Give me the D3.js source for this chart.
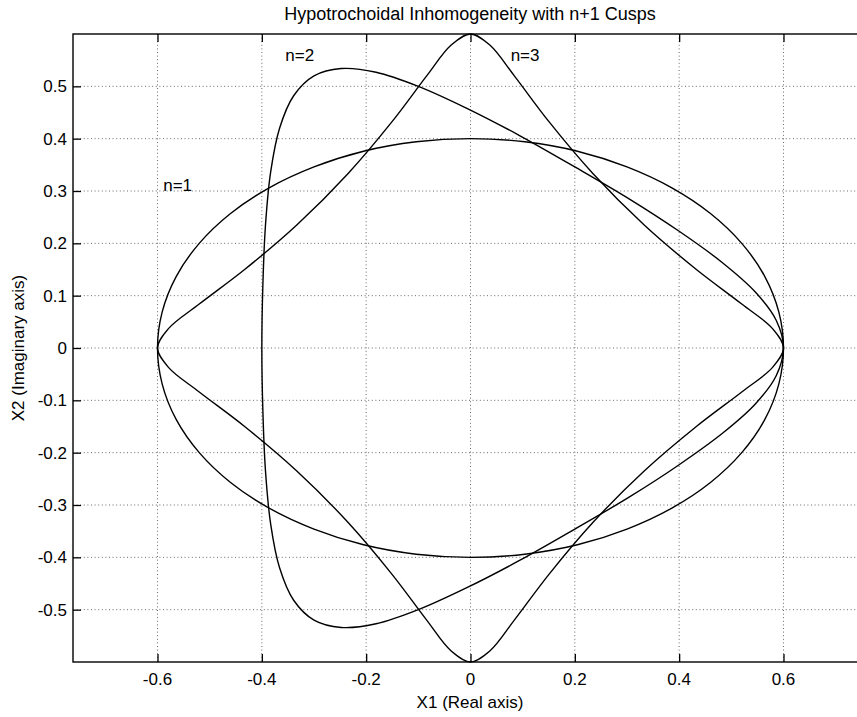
<!DOCTYPE html>
<html>
<head>
<meta charset="utf-8">
<script src="https://cdn.jsdelivr.net/npm/d3@7"></script>
<style>
  body { margin: 0; background: #fff; }
  text { font-family: "Liberation Sans", Arial, Helvetica, sans-serif; fill: #000; }
</style>
</head>
<body>
<div id="chart"></div>
<script>
var w = 857;
var h = 717;

// tick values
var xTicks = [-0.6, -0.4, -0.2, 0, 0.2, 0.4, 0.6];
var yTicks = [-0.5, -0.4, -0.3, -0.2, -0.1, 0, 0.1, 0.2, 0.3, 0.4, 0.5];

// curve points [x1, x2]
var n1Curve = [
  [0.600, 0.000], [0.591, 0.069], [0.564, 0.137], [0.520, 0.200], [0.460, 0.257], [0.386, 0.306],
  [0.300, 0.346], [0.205, 0.376], [0.104, 0.394], [0.000, 0.400], [-0.104, 0.394], [-0.205, 0.376],
  [-0.300, 0.346], [-0.386, 0.306], [-0.460, 0.257], [-0.520, 0.200], [-0.564, 0.137], [-0.591, 0.069],
  [-0.600, 0.000], [-0.591, -0.069], [-0.564, -0.137], [-0.520, -0.200], [-0.460, -0.257], [-0.386, -0.306],
  [-0.300, -0.346], [-0.205, -0.376], [-0.104, -0.394], [0.000, -0.400], [0.104, -0.394], [0.205, -0.376],
  [0.300, -0.346], [0.386, -0.306], [0.460, -0.257], [0.520, -0.200], [0.564, -0.137], [0.591, -0.069]
];
var n2Curve = [
  [0.600, 0.000], [0.586, 0.053], [0.546, 0.107], [0.483, 0.163], [0.400, 0.223], [0.304, 0.285],
  [0.200, 0.346], [0.094, 0.406], [-0.007, 0.458], [-0.100, 0.500], [-0.181, 0.527], [-0.248, 0.534],
  [-0.300, 0.520], [-0.339, 0.482], [-0.366, 0.420], [-0.383, 0.337], [-0.393, 0.235], [-0.398, 0.121],
  [-0.400, 0.000], [-0.398, -0.121], [-0.393, -0.235], [-0.383, -0.337], [-0.366, -0.420], [-0.339, -0.482],
  [-0.300, -0.520], [-0.248, -0.534], [-0.181, -0.527], [-0.100, -0.500], [-0.007, -0.458], [0.094, -0.406],
  [0.200, -0.346], [0.304, -0.285], [0.400, -0.223], [0.483, -0.163], [0.546, -0.107], [0.586, -0.053]
];
var n3Curve = [
  [0.600, 0.000], [0.579, 0.037], [0.520, 0.084], [0.433, 0.150], [0.333, 0.235], [0.235, 0.333],
  [0.150, 0.433], [0.084, 0.520], [0.037, 0.579], [0.000, 0.600], [-0.037, 0.579], [-0.084, 0.520],
  [-0.150, 0.433], [-0.235, 0.333], [-0.333, 0.235], [-0.433, 0.150], [-0.520, 0.084], [-0.579, 0.037],
  [-0.600, 0.000], [-0.579, -0.037], [-0.520, -0.084], [-0.433, -0.150], [-0.333, -0.235], [-0.235, -0.333],
  [-0.150, -0.433], [-0.084, -0.520], [-0.037, -0.579], [0.000, -0.600], [0.037, -0.579], [0.084, -0.520],
  [0.150, -0.433], [0.235, -0.333], [0.333, -0.235], [0.433, -0.150], [0.520, -0.084], [0.579, -0.037]
];

// curve labels and where they sit (data coords)
var curveLabels = ["n=1", "n=2", "n=3"];
var labelX = [-0.589, -0.355, 0.077];
var labelY = [0.300, 0.548, 0.548];

var svg = d3.select("#chart")
            .append("svg")
            .attr("width", w)
            .attr("height", h);

// scales (axis equal, right edge runs off the page)
var xScale = d3.scaleLinear()
    .domain([-0.762, 0.762])
    .range([73, 868]);
var yScale = d3.scaleLinear()
    .domain([-0.6, 0.6])
    .range([662, 34]);

// GRID
var grid = svg.append("g")
    .attr("stroke", "#444")
    .attr("stroke-width", 0.8)
    .attr("stroke-dasharray", "1,2.6");
grid.selectAll(".vgrid")
    .data(xTicks)
    .enter()
    .append("line")
    .attr("x1", d => xScale(d))
    .attr("x2", d => xScale(d))
    .attr("y1", yScale(0.6))
    .attr("y2", yScale(-0.6));
grid.selectAll(".hgrid")
    .data(yTicks)
    .enter()
    .append("line")
    .attr("x1", xScale(-0.762))
    .attr("x2", xScale(0.762))
    .attr("y1", d => yScale(d))
    .attr("y2", d => yScale(d));

// AXES - ticks point inward like matlab
var fmt = d => String(d);   // plain hyphen, not unicode minus
var xAxisB = d3.axisTop(xScale).tickValues(xTicks).tickSize(8).tickFormat("");
var xAxisT = d3.axisBottom(xScale).tickValues(xTicks).tickSize(8).tickFormat("");
var yAxisL = d3.axisRight(yScale).tickValues(yTicks).tickSize(8).tickFormat("");

svg.append("g")
    .attr("transform", "translate(0," + yScale(-0.6) + ")")
    .call(xAxisB);
svg.append("g")
    .attr("transform", "translate(0," + yScale(0.6) + ")")
    .call(xAxisT);
svg.append("g")
    .attr("transform", "translate(" + xScale(-0.762) + ",0)")
    .call(yAxisL);
svg.selectAll(".domain").remove();
svg.selectAll(".tick line").attr("stroke", "#000").attr("stroke-width", 1.3);

// frame
svg.append("rect")
    .attr("x", xScale(-0.762))
    .attr("y", yScale(0.6))
    .attr("width", xScale(0.762) - xScale(-0.762))
    .attr("height", yScale(-0.6) - yScale(0.6))
    .attr("fill", "none")
    .attr("stroke", "#000")
    .attr("stroke-width", 1.4);

// tick labels
svg.selectAll(".xlab")
    .data(xTicks)
    .enter()
    .append("text")
    .attr("x", d => xScale(d))
    .attr("y", 685)
    .attr("text-anchor", "middle")
    .attr("font-size", 17)
    .text(fmt);
svg.selectAll(".ylab")
    .data(yTicks)
    .enter()
    .append("text")
    .attr("x", 67)
    .attr("y", d => yScale(d))
    .attr("dy", "0.36em")
    .attr("text-anchor", "end")
    .attr("font-size", 17)
    .text(fmt);

// CURVES
var line = d3.line()
    .x(d => xScale(d[0]))
    .y(d => yScale(d[1]))
    .curve(d3.curveCatmullRomClosed.alpha(0.5));

svg.selectAll(".curve")
    .data([n1Curve, n2Curve, n3Curve])
    .enter()
    .append("path")
    .attr("class", "curve")
    .attr("d", line)
    .attr("fill", "none")
    .attr("stroke", "#000")
    .attr("stroke-width", 1.4);

svg.selectAll(".nlab")
    .data(curveLabels)
    .enter()
    .append("text")
    .attr("x", (d, i) => xScale(labelX[i]))
    .attr("y", (d, i) => yScale(labelY[i]))
    .attr("font-size", 17)
    .text(d => d);

// titles
svg.append("text")
    .attr("x", 470)
    .attr("y", 20)
    .attr("text-anchor", "middle")
    .attr("font-size", 18)
    .text("Hypotrochoidal Inhomogeneity with n+1 Cusps");
svg.append("text")
    .attr("x", 470)
    .attr("y", 708)
    .attr("text-anchor", "middle")
    .attr("font-size", 17)
    .text("X1 (Real axis)");
svg.append("text")
    .attr("transform", "translate(24," + yScale(0) + ") rotate(-90)")
    .attr("text-anchor", "middle")
    .attr("font-size", 17)
    .text("X2 (Imaginary axis)");
</script>
</body>
</html>
